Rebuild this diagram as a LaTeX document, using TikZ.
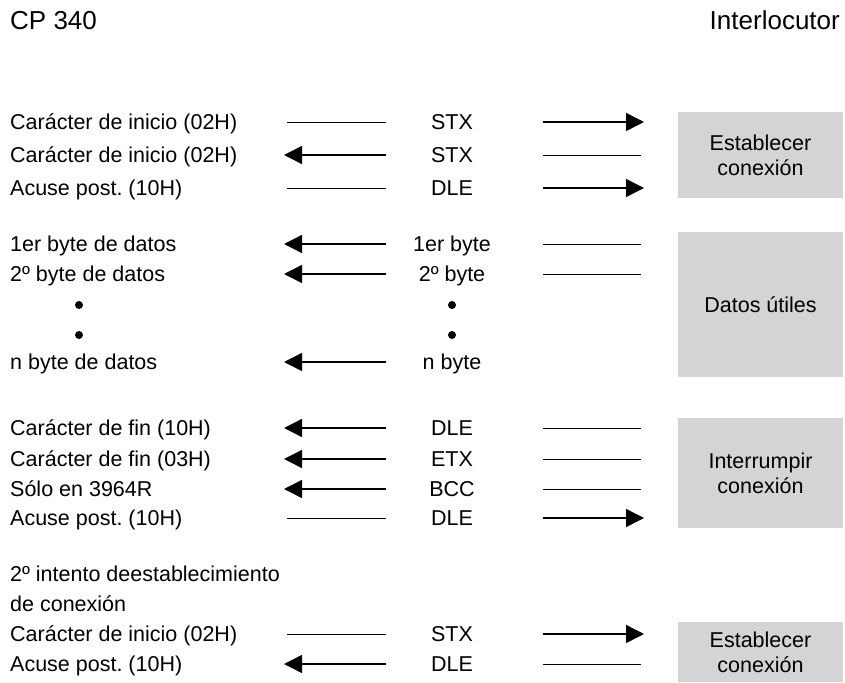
\documentclass[tikz,border=0pt]{standalone}
\usepackage{fontspec}
\setmainfont{Liberation Sans}
\usetikzlibrary{arrows.meta}
\frenchspacing

\definecolor{phasegray}{RGB}{212,212,214}

\begin{document}
\begin{tikzpicture}[
    x=1pt, y=-1pt,
    % Define styles for texts, signal lines and phase boxes
    lbl/.style={anchor=base west, inner sep=0pt, font=\fontsize{21.5}{25}\selectfont},
    sig/.style={anchor=base, inner sep=0pt, font=\fontsize{21.5}{25}\selectfont},
    head/.style={inner sep=0pt, font=\fontsize{26}{30}\selectfont},
    wire/.style={line width=0.9pt},
    arrow/.style={-{Triangle[length=18pt, width=18pt]}, line width=1.4pt},
    phase/.style={fill=phasegray, minimum width=165pt, align=center, inner sep=0pt,
        font=\fontsize{21.5}{25}\selectfont},
    dot/.style={circle, fill=black, inner sep=0pt, minimum size=8pt}
]
    \useasboundingbox (0,0) rectangle (845,682);

    % --- HEADER ---
    \node[head, anchor=base west] (cp) at (10,30) {CP 340};
    \node[head, anchor=base east] (partner) at (840,30) {Interlocutor};

    % --- PHASE BOXES ---
    \node[phase, minimum height=86pt]  (setup1) at (760.5,155) {Establecer\\conexión};
    \node[phase, minimum height=145pt] (data)   at (760.5,304.5) {Datos útiles};
    \node[phase, minimum height=110pt] (stop)   at (760.5,473) {Interrumpir\\conexión};
    \node[phase, minimum height=60pt]  (setup2) at (760.5,652) {Establecer\\conexión};

    % --- ROWS: text, signal and line ends ---
    \foreach \n/\y/\txt/\sgn in {
        1/122/{Carácter de inicio (02H)}/STX,
        2/155/{Carácter de inicio (02H)}/STX,
        3/188/{Acuse post. (10H)}/DLE,
        4/244/{1er byte de datos}/{1er byte},
        5/274/{2º byte de datos}/{2º byte},
        6/362/{n byte de datos}/{n byte},
        7/428/{Carácter de fin (10H)}/DLE,
        8/459/{Carácter de fin (03H)}/ETX,
        9/489/{Sólo en 3964R}/BCC,
        10/518/{Acuse post. (10H)}/DLE,
        11/634/{Carácter de inicio (02H)}/STX,
        12/664/{Acuse post. (10H)}/DLE}{
        \node[lbl] (txt\n) at (10,\y+7) {\txt};
        \node[sig] (sig\n) at (452,\y+7) {\sgn};
        \coordinate (lt\n) at (284,\y);   % left arrow tip
        \coordinate (ls\n) at (287,\y);   % left line start
        \coordinate (lm\n) at (386,\y);
        \coordinate (rm\n) at (543,\y);
        \coordinate (rs\n) at (641,\y);   % right line end
        \coordinate (rt\n) at (644,\y);   % right arrow tip
    }

    % Second attempt note
    \node[lbl] (retry1) at (10,581) {2º intento deestablecimiento};
    \node[lbl] (retry2) at (10,611) {de conexión};

    % Dots between 2nd and n-th byte
    \foreach \y [count=\i] in {305,335}{
        \node[dot] (dl\i) at (79,\y) {};
        \node[dot] (dm\i) at (452,\y) {};
    }

    % --- SIGNAL LINES ---
    \foreach \n in {2,4,5,6,7,8,9,12}
        \draw[arrow] (lm\n) -- (lt\n);
    \foreach \n in {1,3,10,11}
        \draw[wire] (ls\n) -- (lm\n);
    \foreach \n in {1,3,10,11}
        \draw[arrow] (rm\n) -- (rt\n);
    \foreach \n in {2,4,5,7,8,9,12}
        \draw[wire] (rm\n) -- (rs\n);

\end{tikzpicture}
\end{document}
